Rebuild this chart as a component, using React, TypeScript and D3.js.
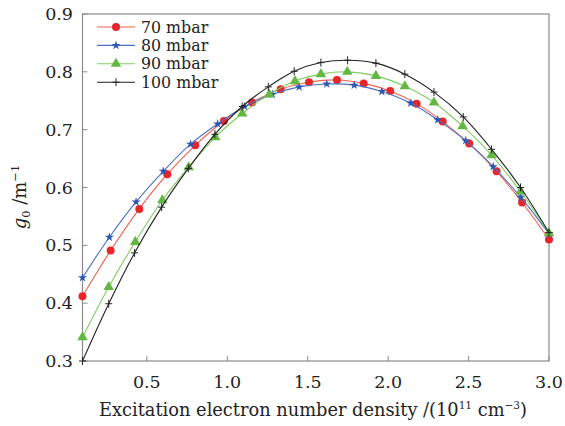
import React from 'react'
import * as d3 from 'd3'

// excitation electron number density (10^11 cm^-3) and g0 (m^-1)
const x70 = [0.10, 0.275, 0.453, 0.627, 0.801, 0.979, 1.154, 1.332, 1.508, 1.682, 1.848, 2.013, 2.177, 2.339, 2.504, 2.674, 2.833, 3.0]
const g70 = [0.412, 0.491, 0.563, 0.623, 0.673, 0.715, 0.747, 0.770, 0.782, 0.786, 0.780, 0.767, 0.745, 0.714, 0.676, 0.628, 0.574, 0.510]

const x80 = [0.10, 0.267, 0.433, 0.602, 0.772, 0.940, 1.108, 1.280, 1.447, 1.618, 1.789, 1.961, 2.140, 2.308, 2.482, 2.653, 2.825, 3.0]
const g80 = [0.444, 0.514, 0.575, 0.628, 0.675, 0.710, 0.740, 0.761, 0.774, 0.779, 0.777, 0.766, 0.746, 0.717, 0.681, 0.636, 0.583, 0.520]

const x90 = [0.10, 0.263, 0.428, 0.596, 0.760, 0.925, 1.093, 1.261, 1.421, 1.582, 1.746, 1.924, 2.104, 2.285, 2.463, 2.643, 2.823, 3.0]
const g90 = [0.341, 0.428, 0.506, 0.578, 0.635, 0.687, 0.728, 0.761, 0.784, 0.796, 0.800, 0.793, 0.775, 0.747, 0.706, 0.656, 0.593, 0.521]

const x100 = [0.10, 0.263, 0.424, 0.592, 0.758, 0.923, 1.093, 1.255, 1.416, 1.582, 1.748, 1.924, 2.104, 2.285, 2.467, 2.643, 2.823, 3.0]
const g100 = [0.300, 0.399, 0.487, 0.566, 0.633, 0.692, 0.740, 0.774, 0.801, 0.816, 0.820, 0.815, 0.796, 0.765, 0.722, 0.666, 0.600, 0.522]

const xTicks = [0.5, 1.0, 1.5, 2.0, 2.5, 3.0]
const yTicks = [0.3, 0.4, 0.5, 0.6, 0.7, 0.8, 0.9]

const series = [
  { label: '70 mbar', xs: x70, ys: g70, line: '#f2604f', fill: '#e8262a', marker: 'circle' },
  { label: '80 mbar', xs: x80, ys: g80, line: '#4b70c6', fill: '#2b58b2', marker: 'star' },
  { label: '90 mbar', xs: x90, ys: g90, line: '#7fcc60', fill: '#63b843', marker: 'triangle' },
  { label: '100 mbar', xs: x100, ys: g100, line: '#222222', fill: '#222222', marker: 'plus' },
]

const W = 565, H = 426
const left = 82.5, right = 549, top = 14, bottom = 361
const font = '"DejaVu Serif", serif'

const Marker = ({ type, cx, cy, color }: any) => {
  if (type === 'circle') return <circle cx={cx} cy={cy} r={4} fill={color} />
  if (type === 'plus') {
    return (
      <g stroke={color} strokeWidth={1}>
        <line x1={cx - 3.5} x2={cx + 3.5} y1={cy} y2={cy} />
        <line x1={cx} x2={cx} y1={cy - 4} y2={cy + 4} />
      </g>
    )
  }
  const sym = type === 'star' ? d3.symbolStar : d3.symbolTriangle
  const size = type === 'star' ? 26 : 48
  return <path d={d3.symbol().type(sym).size(size)() as string} transform={`translate(${cx},${cy})`} fill={color} />
}

const App = () => {
  const x = d3.scaleLinear().domain([0.1, 3.0]).range([left, right])
  const y = d3.scaleLinear().domain([0.3, 0.9]).range([bottom, top])

  const line = d3.line<[number, number]>()
    .x(d => x(d[0]))
    .y(d => y(d[1]))
    .curve(d3.curveCatmullRom.alpha(0.5))

  return (
    <svg width={W} height={H} style={{ position: 'absolute', left: 0, top: 0, background: '#fff' }} fontFamily={font}>
      <rect x={0} y={0} width={W} height={H} fill="#fff" />

      {/* frame */}
      <rect x={left} y={top} width={right - left} height={bottom - top} fill="none" stroke="#8a8a8a" strokeWidth={1.2} />

      {xTicks.map(t => (
        <g key={'x' + t}>
          <line x1={x(t)} x2={x(t)} y1={bottom} y2={bottom - 5} stroke="#8a8a8a" strokeWidth={1} />
          <text x={x(t)} y={388} textAnchor="middle" fontSize={17.5} fill="#222">{t.toFixed(1)}</text>
        </g>
      ))}
      {yTicks.map(t => (
        <g key={'y' + t}>
          <line x1={left} x2={left + 5} y1={y(t)} y2={y(t)} stroke="#8a8a8a" strokeWidth={1} />
          <text x={73} y={y(t) + 6} textAnchor="end" fontSize={17.5} fill="#222">{t.toFixed(1)}</text>
        </g>
      ))}

      {series.map(s => {
        const pts = s.xs.map((v, i) => [v, s.ys[i]] as [number, number])
        return (
          <g key={s.label}>
            <path d={line(pts) as string} fill="none" stroke={s.line} strokeWidth={1.1} />
            {pts.map((p, i) => (
              <Marker key={i} type={s.marker} cx={x(p[0])} cy={y(p[1])} color={s.fill} />
            ))}
          </g>
        )
      })}

      {/* legend */}
      {series.map((s, i) => {
        const ly = 27 + i * 18.4
        return (
          <g key={'lg' + s.label}>
            <line x1={97} x2={135} y1={ly} y2={ly} stroke={s.line} strokeWidth={1.1} />
            <Marker type={s.marker} cx={116} cy={ly} color={s.fill} />
            <text x={141} y={ly + 5.5} fontSize={15.8} fill="#222">{s.label}</text>
          </g>
        )
      })}

      {/* axis titles */}
      <text x={313} y={416} textAnchor="middle" fontSize={17.8} fill="#222">
        Excitation electron number density /(10<tspan dy={-7} fontSize={10.5}>11</tspan>
        <tspan dy={7}> cm</tspan><tspan dy={-7} fontSize={10.5}>−3</tspan><tspan dy={7}>)</tspan>
      </text>
      <text transform="translate(26,197) rotate(-90)" textAnchor="middle" fontSize={18} fill="#222">
        <tspan fontStyle="italic">g</tspan><tspan dy={4} fontSize={11.5}>0</tspan>
        <tspan dy={-4}> /m</tspan><tspan dy={-7} fontSize={11.5}>−1</tspan>
      </text>
    </svg>
  )
}

export default App
